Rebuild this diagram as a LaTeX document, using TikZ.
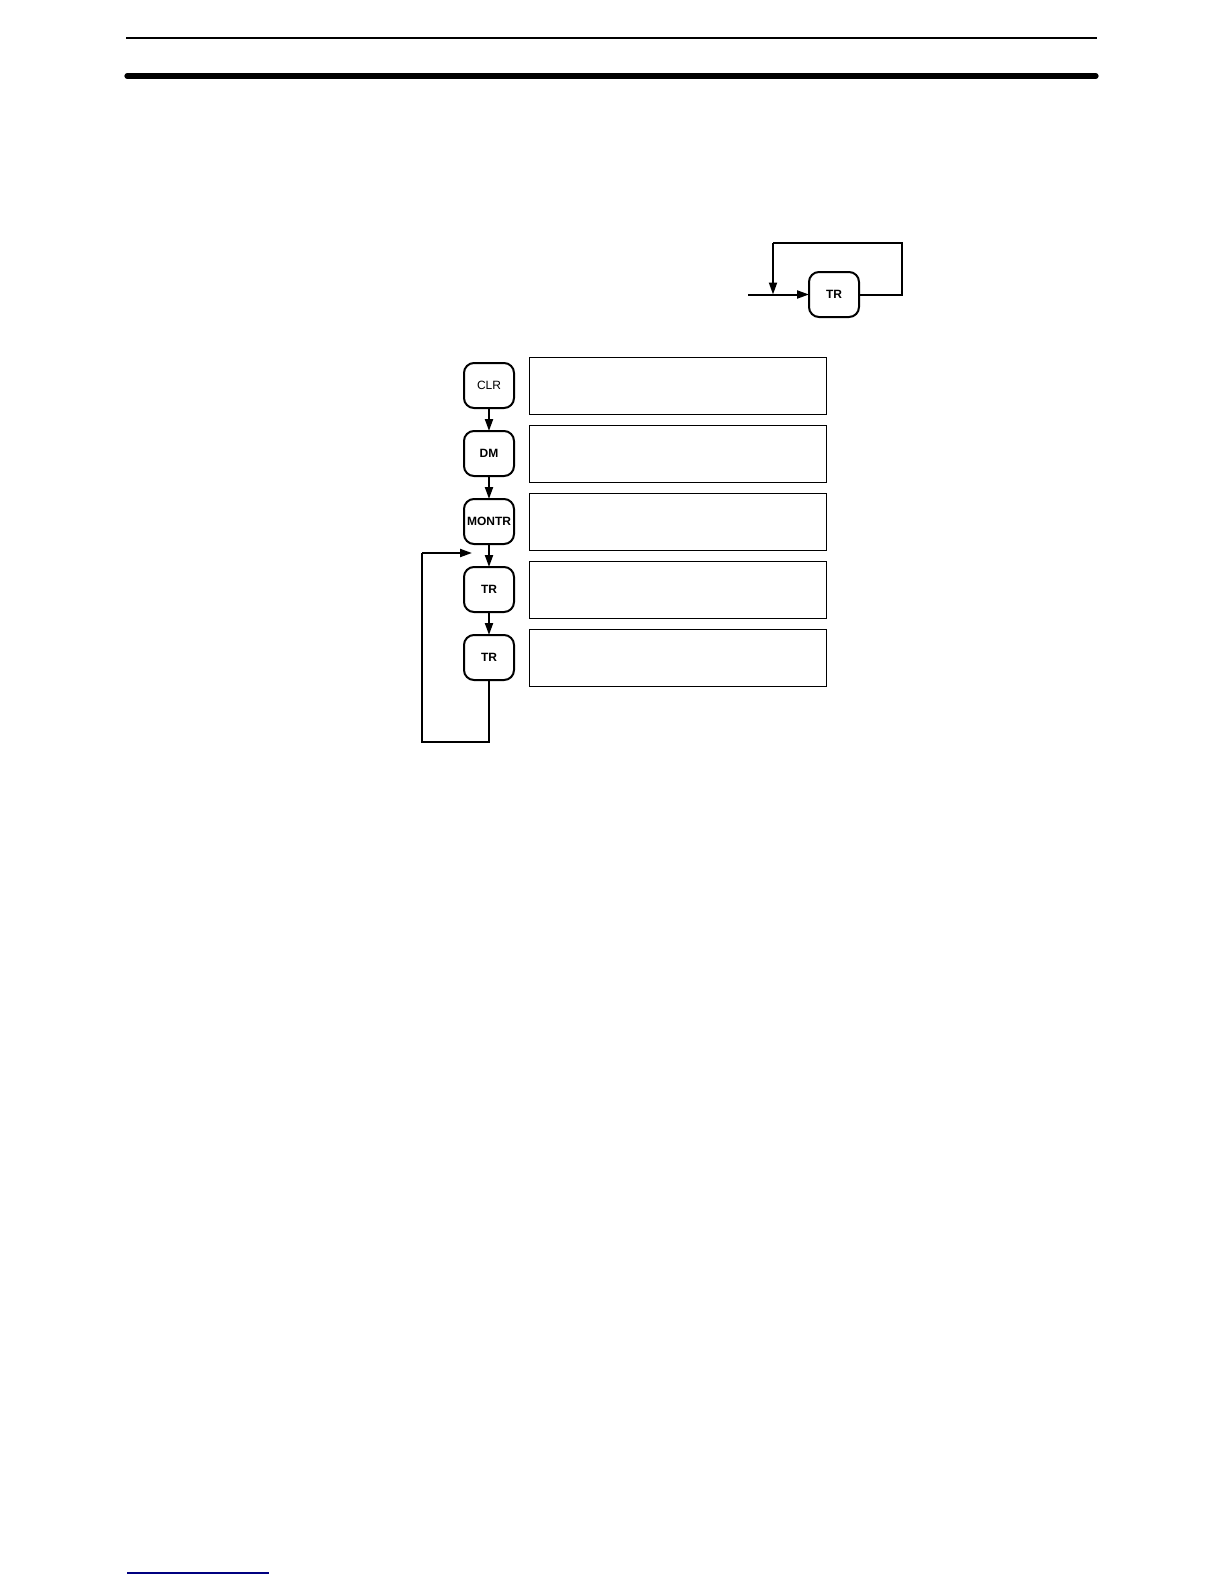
\documentclass[tikz,border=0pt]{standalone}
\usepackage{fontspec}
\setmainfont{Liberation Sans}
\usetikzlibrary{arrows.meta, positioning}
\begin{document}
\begin{tikzpicture}[
    x=0.5pt, y=-0.5pt,
    node distance=11.5pt and 7.5pt,
    key/.style={draw, line width=1pt, rounded corners=5pt, minimum width=25pt, outer sep=0pt,
      minimum height=22.5pt, inner sep=0pt, font=\fontsize{6}{7}\selectfont\bfseries},
    display/.style={draw, line width=0.5pt, minimum width=148.5pt, minimum height=28.5pt,
      outer sep=0pt, inner sep=0pt},
    flow/.style={line width=1pt, -{Triangle[length=6pt, width=4pt]}}
    ]
    \useasboundingbox (0,0) rectangle (1224,1584);

    % Header rules
    \draw[line width=1pt] (126,38) -- (1097,38);
    \draw[line width=2.6pt, line cap=round] (127,76) -- (1096,76);

    % Nodes
    \node[key] (trloop) at (834,294.5) {TR};
    \coordinate (entry) at (748,294.5);
    \coordinate (back) at (773,294.5);
    \coordinate (loopne) at (902,243);
    \coordinate (loopnw) at (773,243);

    \node[key, font=\fontsize{6}{7}\selectfont] (clr) at (489,385.5) {CLR};
    \node[key] (dm) [below=of clr] {DM};
    \node[key] (montr) [below=of dm] {MONTR};
    \node[key] (tra) [below=of montr] {TR};
    \node[key] (trb) [below=of tra] {TR};

    \node[display] (dispclr) [right=of clr] {};
    \node[display] (dispdm) [right=of dm] {};
    \node[display] (dispmontr) [right=of montr] {};
    \node[display] (dispa) [right=of tra] {};
    \node[display] (dispb) [right=of trb] {};

    \coordinate (ret) at (472,553);
    \coordinate (retsw) at (422,742);
    \coordinate (retnw) at (422,553);

    % Edges
    \draw[flow] (entry) -- (trloop);
    \draw[line width=1pt] (trloop.east) -| (loopne) -- (loopnw);
    \draw[flow] (loopnw) -- (back);

    \draw[flow] (clr) -- (dm);
    \draw[flow] (dm) -- (montr);
    \draw[flow] (montr) -- (tra);
    \draw[flow] (tra) -- (trb);

    \draw[line width=1pt] (trb.south) |- (retsw) -- (retnw);
    \draw[flow] (retnw) -- (ret);

    % Footer rule
    \draw[blue!50!black, line width=0.6pt] (127,1573) -- (269,1573);
  \end{tikzpicture}
\end{document}
